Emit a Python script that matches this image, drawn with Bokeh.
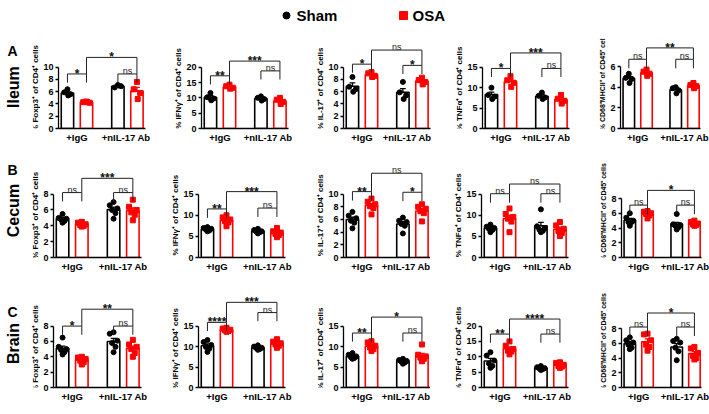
import math
from bokeh.plotting import figure
from bokeh.layouts import column, row
from bokeh.models import Range1d, FixedTicker
from bokeh.core.properties import value
from bokeh.embed import file_html
from bokeh.resources import INLINE

SERIES = ["Sham", "OSA"]
GROUPS = ["+IgG", "+nIL-17 Ab"]
TISSUES = ["Ileum", "Cecum", "Brain"]
ROW_LETTERS = ["A", "B", "C"]
Y_TITLES = ["% Foxp3\u207a of CD4\u207a cells", "% IFN\u03b3\u207a of CD4\u207a cells",
            "% IL-17\u207a of CD4\u207a cells", "% TNF\u03b1\u207a of CD4\u207a cells",
            "% CD68\u207aMHCII\u207a of CD45\u207a cells"]

# order inside each list: Sham +IgG, OSA +IgG, Sham +nIL-17 Ab, OSA +nIL-17 Ab
# ---------------- Ileum ----------------
IL_FOXP3_TICKS = [0, 2, 4, 6, 8, 10]
IL_FOXP3_MEAN = [5.8, 4.3, 6.9, 6.1]
IL_FOXP3_SEM = [0.3, 0.05, 0.15, 0.6]
IL_FOXP3_PTS = [[6.4, 5.9, 5.6, 5.4], [4.4, 4.3, 4.2, 4.3], [7.1, 6.7, 6.9, 7.0], [7.6, 6.4, 5.8, 4.8]]
IL_FOXP3_SIG = ["*", "ns", "*"]
IL_FOXP3_SIG_Y = [8.9, 8.9, 11.6]

IL_IFNG_TICKS = [0, 5, 10, 15, 20]
IL_IFNG_MEAN = [10.2, 13.6, 9.8, 9.0]
IL_IFNG_SEM = [0.5, 0.3, 0.3, 0.45]
IL_IFNG_PTS = [[11.6, 10.2, 9.8, 9.2], [14.3, 13.8, 13.3, 13.0], [10.5, 10.0, 9.6, 9.1], [10.0, 9.4, 8.7, 8.0]]
IL_IFNG_SIG = ["**", "ns", "***"]
IL_IFNG_SIG_Y = [17.2, 18.8, 22.0]

IL_IL17_TICKS = [0, 2, 4, 6, 8, 10]
IL_IL17_MEAN = [6.9, 8.8, 5.9, 7.75]
IL_IL17_SEM = [0.55, 0.2, 0.6, 0.25]
IL_IL17_PTS = [[8.4, 6.8, 6.4, 6.0], [9.2, 9.0, 8.6, 8.4], [7.6, 5.9, 5.4, 4.8], [8.3, 7.9, 7.6, 7.2]]
IL_IL17_SIG = ["*", "*", "ns"]
IL_IL17_SIG_Y = [10.5, 10.3, 12.8]

IL_TNFA_TICKS = [0, 5, 10, 15]
IL_TNFA_MEAN = [8.3, 11.5, 7.9, 7.1]
IL_TNFA_SEM = [0.6, 0.55, 0.4, 0.45]
IL_TNFA_PTS = [[10.0, 8.2, 7.8, 7.2], [12.8, 11.8, 11.2, 10.2], [8.8, 8.0, 7.6, 7.2], [8.2, 7.3, 6.8, 6.1]]
IL_TNFA_SIG = ["*", "ns", "***"]
IL_TNFA_SIG_Y = [14.7, 14.7, 18.5]

IL_CD68_TICKS = [0, 2, 4, 6]
IL_CD68_MEAN = [4.85, 5.4, 3.75, 4.15]
IL_CD68_SEM = [0.2, 0.12, 0.13, 0.1]
IL_CD68_PTS = [[5.3, 4.9, 4.8, 4.4], [5.7, 5.5, 5.3, 5.1], [4.0, 3.9, 3.7, 3.4], [4.4, 4.2, 4.1, 3.9]]
IL_CD68_SIG = ["ns", "ns", "**"]
IL_CD68_SIG_Y = [6.7, 6.7, 7.8]

# ---------------- Cecum ----------------
CE_FOXP3_TICKS = [0, 2, 4, 6, 8]
CE_FOXP3_MEAN = [4.9, 4.2, 6.05, 5.9]
CE_FOXP3_SEM = [0.17, 0.1, 0.3, 0.35]
CE_FOXP3_PTS = [[5.5, 5.0, 4.9, 4.8, 4.6, 4.4], [4.5, 4.4, 4.2, 4.1, 4.0, 3.9],
                [7.0, 6.6, 6.2, 6.0, 5.6, 4.9], [7.3, 6.4, 6.0, 5.7, 5.4, 4.7]]
CE_FOXP3_SIG = ["ns", "ns", "***"]
CE_FOXP3_SIG_Y = [8.2, 8.2, 10.0]

CE_IFNG_TICKS = [0, 5, 10, 15]
CE_IFNG_MEAN = [6.7, 8.8, 6.2, 5.8]
CE_IFNG_SEM = [0.18, 0.4, 0.15, 0.3]
CE_IFNG_PTS = [[7.2, 7.0, 6.8, 6.6, 6.4, 6.2], [10.0, 9.5, 9.0, 8.6, 8.3, 7.4],
               [6.8, 6.5, 6.2, 6.1, 6.0, 5.7], [7.0, 6.2, 5.9, 5.6, 5.3, 4.8]]
CE_IFNG_SIG = ["**", "ns", "***"]
CE_IFNG_SIG_Y = [11.5, 11.7, 15.6]

CE_IL17_TICKS = [0, 2, 4, 6, 8, 10]
CE_IL17_MEAN = [6.0, 8.2, 5.3, 7.35]
CE_IL17_SEM = [0.35, 0.35, 0.35, 0.4]
CE_IL17_PTS = [[7.2, 6.6, 6.2, 5.8, 5.5, 4.6], [9.3, 8.8, 8.4, 8.1, 7.8, 6.8],
               [6.3, 5.8, 5.6, 5.3, 5.0, 3.8], [8.4, 8.0, 7.7, 7.3, 7.0, 5.7]]
CE_IL17_SIG = ["**", "*", "ns"]
CE_IL17_SIG_Y = [10.4, 10.3, 13.3]

CE_TNFA_TICKS = [0, 5, 10, 15]
CE_TNFA_MEAN = [7.0, 9.2, 7.5, 6.7]
CE_TNFA_SEM = [0.3, 0.85, 0.8, 0.5]
CE_TNFA_PTS = [[7.8, 7.3, 7.0, 6.8, 6.5, 6.0], [11.6, 10.3, 9.6, 9.2, 8.5, 6.0],
               [11.4, 7.4, 6.9, 6.6, 6.3, 6.0], [8.4, 7.6, 6.8, 6.3, 5.8, 5.1]]
CE_TNFA_SIG = ["ns", "ns", "ns"]
CE_TNFA_SIG_Y = [15.1, 15.1, 17.4]

CE_CD68_TICKS = [0, 2, 4, 6, 8]
CE_CD68_MEAN = [5.05, 5.9, 4.5, 4.6]
CE_CD68_SEM = [0.25, 0.15, 0.25, 0.12]
CE_CD68_PTS = [[6.0, 5.4, 5.0, 4.8, 4.8, 4.3], [6.3, 6.2, 6.0, 5.9, 5.7, 5.3],
               [5.9, 4.5, 4.4, 4.3, 4.1, 3.8], [5.0, 4.8, 4.6, 4.5, 4.4, 4.3]]
CE_CD68_SIG = ["ns", "ns", "*"]
CE_CD68_SIG_Y = [7.1, 7.1, 9.1]

# ---------------- Brain ----------------
BR_FOXP3_TICKS = [0, 2, 4, 6, 8]
BR_FOXP3_MEAN = [5.1, 3.6, 6.0, 5.1]
BR_FOXP3_SEM = [0.3, 0.15, 0.4, 0.3]
BR_FOXP3_PTS = [[6.5, 5.3, 5.0, 4.9, 4.6, 4.3], [4.0, 3.9, 3.7, 3.5, 3.3, 3.0],
                [7.2, 7.0, 6.1, 5.8, 5.3, 4.6], [6.2, 5.6, 5.3, 5.0, 4.5, 4.0]]
BR_FOXP3_SIG = ["*", "ns", "**"]
BR_FOXP3_SIG_Y = [8.0, 8.0, 10.2]

BR_IFNG_TICKS = [0, 5, 10, 15]
BR_IFNG_MEAN = [10.2, 14.1, 9.7, 10.7]
BR_IFNG_SEM = [0.45, 0.15, 0.15, 0.3]
BR_IFNG_PTS = [[11.6, 11.1, 10.4, 9.9, 9.5, 8.7], [14.6, 14.4, 14.1, 14.0, 13.8, 13.6],
               [10.3, 10.0, 9.7, 9.6, 9.4, 9.2], [11.8, 11.2, 10.8, 10.5, 10.2, 9.7]]
BR_IFNG_SIG = ["****", "ns", "***"]
BR_IFNG_SIG_Y = [15.9, 18.3, 20.8]

BR_IL17_TICKS = [0, 5, 10, 15]
BR_IL17_MEAN = [7.6, 10.1, 6.4, 7.8]
BR_IL17_SEM = [0.25, 0.45, 0.2, 0.55]
BR_IL17_PTS = [[8.4, 8.0, 7.6, 7.4, 7.2, 7.0], [11.3, 11.0, 10.2, 9.8, 9.4, 8.9],
               [7.0, 6.7, 6.5, 6.3, 6.1, 5.8], [10.5, 8.0, 7.6, 7.3, 7.0, 6.4]]
BR_IL17_SIG = ["**", "ns", "*"]
BR_IL17_SIG_Y = [13.3, 13.3, 17.2]

BR_TNFA_TICKS = [0, 5, 10, 15, 20]
BR_TNFA_MEAN = [8.65, 12.6, 6.3, 7.3]
BR_TNFA_SEM = [0.85, 0.6, 0.2, 0.35]
BR_TNFA_PTS = [[11.5, 10.4, 8.8, 7.8, 7.0, 6.4], [15.0, 13.6, 12.5, 12.0, 11.7, 10.8],
               [7.0, 6.6, 6.3, 6.2, 6.0, 5.7], [8.2, 8.0, 7.4, 7.0, 6.8, 6.4]]
BR_TNFA_SIG = ["**", "ns", "****"]
BR_TNFA_SIG_Y = [17.4, 17.4, 22.3]

BR_CD68_TICKS = [0, 2, 4, 6, 8]
BR_CD68_MEAN = [5.95, 6.2, 5.5, 4.6]
BR_CD68_SEM = [0.3, 0.4, 0.45, 0.3]
BR_CD68_PTS = [[6.8, 6.4, 6.1, 5.8, 5.4, 5.2], [7.3, 7.2, 6.4, 5.8, 5.5, 5.0],
               [6.6, 6.3, 6.1, 5.4, 4.9, 3.7], [5.5, 5.3, 4.7, 4.3, 4.0, 3.8]]
BR_CD68_SIG = ["ns", "ns", "*"]
BR_CD68_SIG_Y = [8.2, 8.2, 10.1]

PANELS = [
    [(IL_FOXP3_TICKS, IL_FOXP3_MEAN, IL_FOXP3_SEM, IL_FOXP3_PTS, IL_FOXP3_SIG, IL_FOXP3_SIG_Y),
     (IL_IFNG_TICKS, IL_IFNG_MEAN, IL_IFNG_SEM, IL_IFNG_PTS, IL_IFNG_SIG, IL_IFNG_SIG_Y),
     (IL_IL17_TICKS, IL_IL17_MEAN, IL_IL17_SEM, IL_IL17_PTS, IL_IL17_SIG, IL_IL17_SIG_Y),
     (IL_TNFA_TICKS, IL_TNFA_MEAN, IL_TNFA_SEM, IL_TNFA_PTS, IL_TNFA_SIG, IL_TNFA_SIG_Y),
     (IL_CD68_TICKS, IL_CD68_MEAN, IL_CD68_SEM, IL_CD68_PTS, IL_CD68_SIG, IL_CD68_SIG_Y)],
    [(CE_FOXP3_TICKS, CE_FOXP3_MEAN, CE_FOXP3_SEM, CE_FOXP3_PTS, CE_FOXP3_SIG, CE_FOXP3_SIG_Y),
     (CE_IFNG_TICKS, CE_IFNG_MEAN, CE_IFNG_SEM, CE_IFNG_PTS, CE_IFNG_SIG, CE_IFNG_SIG_Y),
     (CE_IL17_TICKS, CE_IL17_MEAN, CE_IL17_SEM, CE_IL17_PTS, CE_IL17_SIG, CE_IL17_SIG_Y),
     (CE_TNFA_TICKS, CE_TNFA_MEAN, CE_TNFA_SEM, CE_TNFA_PTS, CE_TNFA_SIG, CE_TNFA_SIG_Y),
     (CE_CD68_TICKS, CE_CD68_MEAN, CE_CD68_SEM, CE_CD68_PTS, CE_CD68_SIG, CE_CD68_SIG_Y)],
    [(BR_FOXP3_TICKS, BR_FOXP3_MEAN, BR_FOXP3_SEM, BR_FOXP3_PTS, BR_FOXP3_SIG, BR_FOXP3_SIG_Y),
     (BR_IFNG_TICKS, BR_IFNG_MEAN, BR_IFNG_SEM, BR_IFNG_PTS, BR_IFNG_SIG, BR_IFNG_SIG_Y),
     (BR_IL17_TICKS, BR_IL17_MEAN, BR_IL17_SEM, BR_IL17_PTS, BR_IL17_SIG, BR_IL17_SIG_Y),
     (BR_TNFA_TICKS, BR_TNFA_MEAN, BR_TNFA_SEM, BR_TNFA_PTS, BR_TNFA_SIG, BR_TNFA_SIG_Y),
     (BR_CD68_TICKS, BR_CD68_MEAN, BR_CD68_SEM, BR_CD68_PTS, BR_CD68_SIG, BR_CD68_SIG_Y)],
]

# ---------------- layout / style (page pixels, page origin = top-left) ----------------
FONT = "Liberation Sans"
SERIES_COLORS = ["#000000", "#ff0000"]
SERIES_MARKERS = ["circle", "square"]
BAR_POS = [1.0, 2.0, 3.65, 4.65]
GROUP_POS = [1.5, 4.15]
BAR_W = 0.65
JITTER = {4: [0.0, -0.17, 0.17, 0.04], 6: [0.0, -0.2, 0.2, -0.08, 0.1, 0.0]}
XR = [(0.53, 5.10)] * 4 + [(0.53, 5.05)]
FRAME_W = [88, 88, 88, 88, 80]
PAGE_W = 709
LEGEND_H = 30
ROW_TOP = [30, 156, 280]
ROW_H = [126, 124, 134]
FRAME_TOP = [38, 160, 292]
BASE = [[132, 132, 132, 132, 128], [258, 258, 258, 258, 257], [391, 391, 391, 391, 387]]
TICK_TOP = [[68, 68, 68, 68, 66], [194, 194, 194, 194, 198], [327, 327, 327, 327, 328]]
BL = [[57, 50, 50, 50, 50], [53, 50, 50, 50, 50], [53, 50, 50, 50, 50]]
BR = [[5, 4, 1, 1, 9], [6, 7, 0, 3, 8], [6, 7, 0, 3, 8]]
CD68_TITLE_Y = [90, 222, 350]
LETTER_PAGE = [(12, 47), (12, 168), (12, 308)]
TISSUE_PAGE = [(13, 98), (13, 220), (13, 352)]
LEG_PX = 9


def blank(width, height, xr, yr):
    """A figure without axes whose coordinates are page pixels, used for side texts."""
    s = figure(width=width, height=height, x_range=Range1d(*xr), y_range=Range1d(*yr),
               output_backend="svg", toolbar_location=None, x_axis_location=None,
               y_axis_location=None, min_border=0, min_border_left=0, min_border_right=0,
               min_border_top=0, min_border_bottom=0, title=None)
    s.grid.visible = False
    s.outline_line_color = None
    return s


def make_panel(r, c, page_x0):
    ticks, mean, sem, pts, sig, sig_y = PANELS[r][c]
    top = ticks[-1]
    two_digit = len(str(top)) > 1
    axb = 17 if two_digit else 13
    title_off = -22 if two_digit else -18
    base, ttop, ftop = BASE[r][c], TICK_TOP[r][c], FRAME_TOP[r]
    ppu = (base - ttop) / top
    y_end = (base - ftop) / ppu
    bl, br, fw = BL[r][c], BR[r][c], FRAME_W[c]
    bt = ftop - ROW_TOP[r]
    bb = ROW_TOP[r] + ROW_H[r] - base
    x0, x1 = XR[c]
    sw = bl - axb

    # ---- side strip with the axis title (and row labels for the first column)
    s = blank(sw, ROW_H[r], (page_x0, page_x0 + sw), (ROW_TOP[r] + ROW_H[r], ROW_TOP[r]))
    axis_x = page_x0 + bl
    ty = CD68_TITLE_Y[r] if c == 4 else (base + ttop) / 2
    s.text(x=[axis_x + title_off], y=[ty], text=[Y_TITLES[c]], angle=math.pi / 2,
           text_align="center", text_baseline="middle", text_font=value(FONT),
           text_font_style="bold", text_font_size="7px" if c == 4 else "8px",
           text_color="black")
    if c == 0:
        s.text(x=[LETTER_PAGE[r][0]], y=[LETTER_PAGE[r][1]], text=[ROW_LETTERS[r]],
               text_align="center", text_baseline="middle", text_font=value(FONT),
               text_font_style="bold", text_font_size="14px", text_color="black")
        s.text(x=[TISSUE_PAGE[r][0]], y=[TISSUE_PAGE[r][1]], text=[TISSUES[r]],
               angle=math.pi / 2, text_align="center", text_baseline="middle",
               text_font=value(FONT), text_font_style="bold", text_font_size="16px",
               text_color="black")

    # ---- the plot itself
    p = figure(width=axb + fw + br, height=ROW_H[r], x_range=Range1d(x0, x1),
               y_range=Range1d(0, y_end), output_backend="svg", toolbar_location=None,
               min_border_left=axb, min_border_right=br, min_border_top=bt,
               min_border_bottom=bb, title=None)
    p.outline_line_color = None
    p.grid.visible = False

    ya = p.yaxis[0]
    ya.ticker = FixedTicker(ticks=ticks)
    ya.bounds = (0, top)
    ya.major_tick_out = 3
    ya.major_tick_in = 0
    ya.minor_tick_out = 0
    ya.minor_tick_in = 0
    ya.axis_line_width = 1.3
    ya.major_tick_line_width = 1.3
    ya.major_label_standoff = 2
    ya.major_label_text_font = FONT
    ya.major_label_text_font_style = "bold"
    ya.major_label_text_font_size = "9px"
    ya.major_label_text_color = "black"

    xa = p.xaxis[0]
    xa.ticker = FixedTicker(ticks=GROUP_POS)
    xa.major_label_overrides = {GROUP_POS[i]: GROUPS[i] for i in range(2)}
    xa.major_tick_out = 0
    xa.major_tick_in = 0
    xa.minor_tick_out = 0
    xa.minor_tick_in = 0
    xa.axis_line_width = 1.3
    xa.major_label_standoff = 3
    xa.major_label_text_font = FONT
    xa.major_label_text_font_style = "bold"
    xa.major_label_text_font_size = "9.5px"
    xa.major_label_text_color = "black"

    colors = [SERIES_COLORS[i % 2] for i in range(4)]
    p.vbar(x=BAR_POS, top=mean, width=BAR_W, fill_color="white", line_color=colors,
           line_width=1.6)
    tops = [m + e for m, e in zip(mean, sem)]
    p.segment(x0=BAR_POS, y0=mean, x1=BAR_POS, y1=tops, line_color=colors, line_width=1.3)
    p.segment(x0=[x - 0.15 for x in BAR_POS], y0=tops, x1=[x + 0.15 for x in BAR_POS],
              y1=tops, line_color=colors, line_width=1.3)
    for i in range(4):
        offs = JITTER[len(pts[i])]
        p.scatter(x=[BAR_POS[i] + o for o in offs], y=pts[i], marker=SERIES_MARKERS[i % 2],
                  size=5, fill_color=colors[i], line_color=colors[i])

    leg = LEG_PX / ppu
    xs = [[BAR_POS[0], BAR_POS[0], BAR_POS[1], BAR_POS[1]],
          [BAR_POS[2], BAR_POS[2], BAR_POS[3], BAR_POS[3]],
          [BAR_POS[1], BAR_POS[1], BAR_POS[3], BAR_POS[3]]]
    ys = [[sig_y[0] - leg, sig_y[0], sig_y[0], sig_y[0] - leg],
          [sig_y[1] - leg, sig_y[1], sig_y[1], sig_y[1] - leg],
          [sig_y[0], sig_y[2], sig_y[2], sig_y[1]]]
    p.multi_line(xs=xs, ys=ys, line_color="#222222", line_width=1.0)
    cx = [(BAR_POS[0] + BAR_POS[1]) / 2, (BAR_POS[2] + BAR_POS[3]) / 2,
          (BAR_POS[1] + BAR_POS[3]) / 2]
    star_i = [k for k in range(3) if sig[k] != "ns"]
    ns_i = [k for k in range(3) if sig[k] == "ns"]
    if star_i:
        p.text(x=[cx[k] for k in star_i], y=[sig_y[k] for k in star_i],
               text=[sig[k] for k in star_i], text_align="center",
               text_baseline="alphabetic", text_font=value(FONT), text_font_style="bold",
               text_font_size="12px", text_color="#111111", y_offset=0)
    if ns_i:
        p.text(x=[cx[k] for k in ns_i], y=[sig_y[k] for k in ns_i],
               text=[sig[k] for k in ns_i], text_align="center",
               text_baseline="alphabetic", text_font=value(FONT),
               text_font_style="normal", text_font_size="9px", text_color="#222222",
               y_offset=-3)
    return [s, p], bl + fw + br


# ---- legend strip (page-pixel coordinates)
LEGEND_MARK_X = [286, 403]
LEGEND_TEXT_X = [296, 412]
LEGEND_Y = 15
lg = blank(PAGE_W, LEGEND_H, (0, PAGE_W), (LEGEND_H, 0))
for i, name in enumerate(SERIES):
    lg.scatter(x=[LEGEND_MARK_X[i]], y=[LEGEND_Y], marker=SERIES_MARKERS[i],
               size=7 if i == 0 else 8, fill_color=SERIES_COLORS[i],
               line_color=SERIES_COLORS[i])
    lg.text(x=[LEGEND_TEXT_X[i]], y=[LEGEND_Y], text=[name], text_align="left",
            text_baseline="middle", text_font=value(FONT), text_font_style="bold",
            text_font_size="15px", text_color="black")

rows = []
for r in range(3):
    figs = []
    px = 0
    for c in range(5):
        fs, w = make_panel(r, c, px)
        figs.extend(fs)
        px += w
    rows.append(row(*figs))
layout = column(lg, *rows)

open("out.html", "w").write(file_html(layout, INLINE))
